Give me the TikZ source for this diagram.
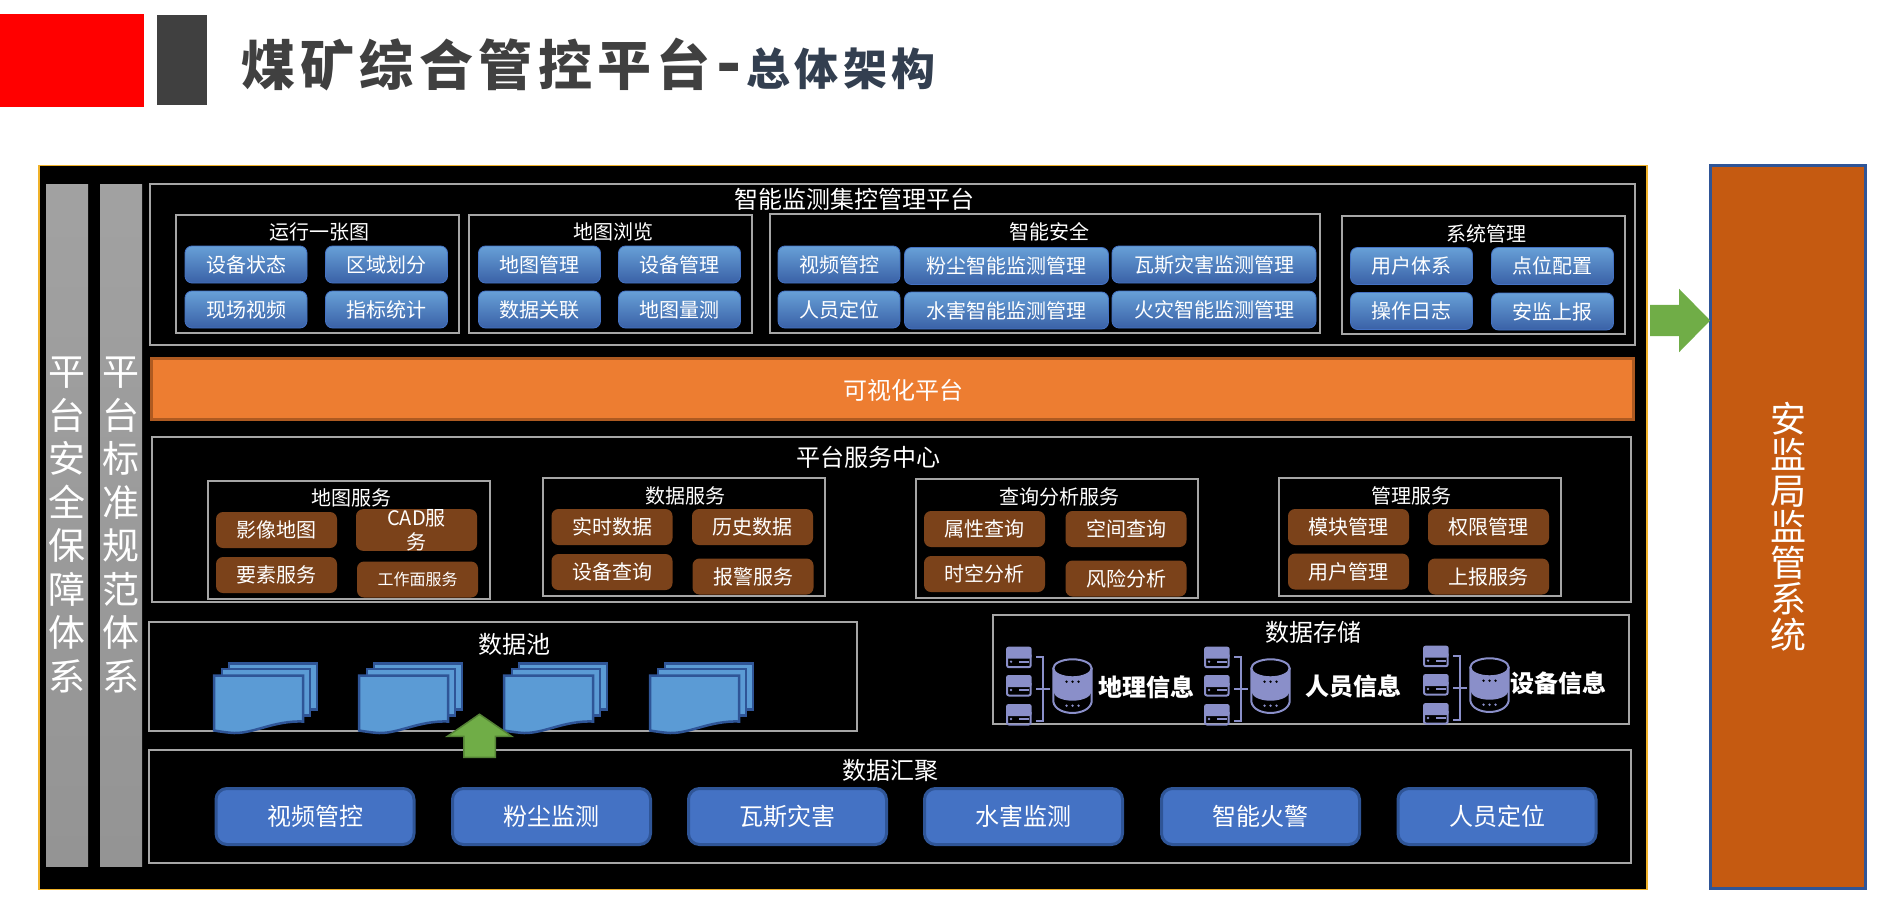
\documentclass[tikz,border=0pt]{standalone}
\usepackage{fontspec}
\setmainfont{Noto Sans CJK SC}
\newfontfamily\titlefont[LetterSpace=10]{Noto Sans CJK SC}
\usetikzlibrary{shapes.arrows}
\definecolor{panelline}{HTML}{F0B22A}
\definecolor{boxline}{HTML}{A6A6A6}
\definecolor{darkbrown}{HTML}{7B421A}
\definecolor{btnblue}{HTML}{4472C4}
\definecolor{btnline}{HTML}{2F5597}
\definecolor{docfill}{HTML}{5B9BD5}
\definecolor{iconblue}{HTML}{8A8FC9}
\definecolor{arrowgreen}{HTML}{70AD47}
\definecolor{arrowline}{HTML}{548235}
\definecolor{subhead}{HTML}{333F50}
\definecolor{visualfill}{HTML}{ED7D31}
\definecolor{visualline}{HTML}{AE5A21}
\definecolor{superfill}{HTML}{C55A11}
\tikzset{
  groupbox/.style={draw=boxline,line width=2pt,inner sep=0pt},
  smalltitle/.style={text=white,inner sep=0pt,font=\fontsize{20}{24}\selectfont},
  bigtitle/.style={text=white,inner sep=0pt,font=\fontsize{24}{28}\selectfont},
  bluebtn/.style={rounded corners=7pt,top color=btnblue!75!white!90!cyan,bottom color=btnblue!85!black,
    draw=btnblue,line width=.8pt,text=white,inner sep=0pt,minimum width=122pt,minimum height=37pt,
    font=\fontsize{20}{24}\selectfont},
  brownbtn/.style={rounded corners=7pt,fill=darkbrown,text=white,inner sep=0pt,minimum width=121pt,
    minimum height=36pt,font=\fontsize{20}{24}\selectfont},
  sourcebtn/.style={rounded corners=11pt,fill=btnblue,draw=btnline,line width=3pt,text=white,inner sep=0pt,
    minimum width=198pt,minimum height=56pt,font=\fontsize{24}{28}\selectfont},
  sidebar/.style={top color=boxline!105!white,bottom color=black!42,inner sep=0pt,text=white,align=center,
    minimum width=42pt,minimum height=682pt,font=\fontsize{37}{43.5}\selectfont},
  greenarrow/.style={single arrow,fill=arrowgreen,single arrow head indent=0pt},
  docstack/.pic={
    \draw[fill=docfill,draw=btnline,line width=2.5pt] (15,0) rectangle (103,46);
    \draw[fill=docfill,draw=btnline,line width=2.5pt] (8,5.5) rectangle (96,52);
    \draw[fill=docfill,draw=btnline,line width=2.5pt] (0,12) -- (89,12) -- (89,58)
      .. controls (60,57) and (40,70) .. (20,69.5) .. controls (12,69) and (6,68) .. (0,67) -- cycle;
  },
  dbicon/.pic={
    \foreach \sy in {0,28.3,57.3} {
      \draw[iconblue,line width=2pt,rounded corners=2pt] (1,\sy+8) -- (1,\sy+20.5) -- (24.7,\sy+20.5) -- (24.7,\sy+8);
      \fill[iconblue,rounded corners=2.5pt] (0,\sy) rectangle (25.7,\sy+12);
      \fill[iconblue] (5,\sy+15) circle (1.3);
      \fill[iconblue] (12.5,\sy+14) rectangle (22.5,\sy+15.8);
    }
    \draw[iconblue,line width=2pt] (30,10.6) -- (37.3,10.6) -- (37.3,74) -- (30,74);
    \draw[iconblue,line width=2pt] (30,42.6) -- (44,42.6);
    \fill[iconblue] (47.3,21.6) .. controls (50,33) and (83,33) .. (85.7,21.6) -- (85.7,45)
      .. controls (83,57) and (50,57) .. (47.3,45) -- cycle;
    \draw[iconblue,line width=2pt] (66.5,21.6) ellipse (19.2 and 9);
    \draw[iconblue,line width=2pt] (47.3,21.6) -- (47.3,55) .. controls (50,70) and (83,70) .. (85.7,55) -- (85.7,21.6);
    \foreach \dx in {60.5,66.5,72.5} {
      \fill[black] (\dx,35) circle (1.3);
      \fill[iconblue] (\dx,59) circle (1.3);
    }
  }
}
\begin{document}
\begin{tikzpicture}[x=1pt,y=-1pt]
\useasboundingbox (0,0) rectangle (1878,907);
% heading
\node[fill=red,minimum width=144pt,minimum height=93pt,inner sep=0pt] (redmark) at (72,60.5) {};
\node[fill=black!75,minimum width=50pt,minimum height=90pt,inner sep=0pt] (greymark) at (182,60) {};
\node[text=black!75,font=\titlefont\fontsize{54}{60}\selectfont\bfseries,inner sep=0pt] (headline) at (476,65) {煤矿综合管控平台};
\node[text=black!75,font=\fontsize{66}{70}\selectfont\bfseries,inner sep=0pt,anchor=base] (headdash) at (729,86.5) {-};
\node[text=subhead,font=\titlefont\fontsize{44}{50}\selectfont\bfseries,inner sep=0pt] (headsub) at (841,69) {总体架构};
% black panel and the two side bars
\node[fill=black,draw=panelline,line width=1.2pt,minimum width=1608pt,minimum height=723.5pt,inner sep=0pt] (panel) at (843,527.5) {};
\node[sidebar] (securebar) at (67,525) {平\\台\\安\\全\\保\\障\\体\\系};
\node[sidebar] (normbar) at (121,525) {平\\台\\标\\准\\规\\范\\体\\系};
% group frames
\foreach \nm/\x/\y/\w/\h in {
  topbox/892.5/264.5/1485/161, opsbox/317.5/274/283/118, viewbox/610.5/274/283/118,
  safebox/1045/273.5/550/119, sysbox/1483.5/275/283/118,
  svcbox/891.5/519.5/1479/165, mapsvcbox/349/540/282/118, datasvcbox/684/537/282/118,
  qrysvcbox/1057/538.5/282/119, mgrsvcbox/1420/537/282/118,
  poolbox/503/676.5/708/109, storebox/1311/669.5/636/109, gatherbox/890/806.5/1482/113}
  \node[groupbox,minimum width=\w pt,minimum height=\h pt] (\nm) at (\x,\y) {};
% titles
\foreach \nm/\x/\y/\txt in {
  toptitle/854/199.5/智能监测集控管理平台, svctitle/868/457/平台服务中心, pooltitle/514/644/数据池,
  storetitle/1313/632/数据存储, gathertitle/890/770/数据汇聚}
  \node[bigtitle] (\nm) at (\x,\y) {\txt};
\foreach \nm/\x/\y/\txt in {
  opstitle/319.5/232/运行一张图, viewtitle/613/232/地图浏览, safetitle/1049/232/智能安全, systitle/1486/234/系统管理,
  mapsvctitle/351/498/地图服务, datasvctitle/685.5/496/数据服务, qrysvctitle/1059/497/查询分析服务, mgrsvctitle/1411/496/管理服务}
  \node[smalltitle] (\nm) at (\x,\y) {\txt};
% blue function buttons
\foreach \nm/\x/\y/\txt in {
  devState/246/264.5/设备状态, areaDiv/386.5/264.5/区域划分, siteVideo/246/309.5/现场视频, kpiStat/386.5/309.5/指标统计,
  mapMgr/539.5/264.5/地图管理, devMgr/679.5/264.5/设备管理, dataLink/539.5/309.5/数据关联, mapGauge/679.5/309.5/地图量测,
  vidCtl/839/264.5/视频管控, staffPos/839/309.5/人员定位,
  userSys/1411.5/266/用户体系, pointCfg/1552.5/266/点位配置, opLog/1411.5/311/操作日志, superRep/1552.5/311.5/安监上报}
  \node[bluebtn] (\nm) at (\x,\y) {\txt};
\foreach \nm/\x/\y/\txt in {
  dustMon/1006.5/266/粉尘智能监测管理, waterMon/1006.5/310.5/水害智能监测管理,
  gasMon/1214/264.5/瓦斯灾害监测管理, fireMon/1214/309.5/火灾智能监测管理}
  \node[bluebtn,minimum width=204pt] (\nm) at (\x,\y) {\txt};
% visual platform
\node[fill=visualfill,draw=visualline,line width=3pt,minimum width=1482pt,minimum height=61pt,inner sep=0pt] (visual) at (892.5,389) {};
\node[text=white,inner sep=0pt,font=\fontsize{24}{28}\selectfont] (visualtext) at (903,390) {可视化平台};
% brown service buttons
\foreach \nm/\x/\y/\txt in {
  imgMap/276.5/530/影像地图, featSvc/276.5/575/要素服务,
  realData/612/527/实时数据, histData/752.5/527/历史数据, devQuery/612/572/设备查询, alarmSvc/753/576.5/报警服务,
  attrQuery/984.5/529/属性查询, spaceQuery/1126/529/空间查询, stAna/984.5/574/时空分析, riskAna/1126/578.5/风险分析,
  modMgr/1348.5/527/模块管理, permMgr/1488.5/527/权限管理, usrMgr/1348.5/571.5/用户管理, repSvc/1488.5/576.5/上报服务}
  \node[brownbtn] (\nm) at (\x,\y) {\txt};
\node[brownbtn,align=center] (cadSvc) at (416.5,530) {CAD服\\务};
\node[brownbtn,font=\fontsize{16}{20}\selectfont] (faceSvc) at (417.5,579.5) {工作面服务};
% data pool icons
\foreach \x [count=\i] in {214,359,504,650}
  \pic (pool\i) at (\x,663.5) {docstack};
% storage icons
\pic (geoDb) at (1006,646.7) {dbicon};
\pic (staffDb) at (1204,646.7) {dbicon};
\pic (devDb) at (1423,645.7) {dbicon};
\foreach \nm/\x/\y/\txt in {geoText/1146/687/地理信息, staffText/1353.5/686/人员信息, devText/1558/683/设备信息}
  \node[text=white,inner sep=0pt,font=\fontsize{24}{28}\selectfont\bfseries] (\nm) at (\x,\y) {\txt};
% data sources
\foreach \nm/\x/\txt in {srcVideo/315/视频管控, srcDust/551.5/粉尘监测, srcGas/787.5/瓦斯灾害,
  srcWater/1023.5/水害监测, srcFire/1260.5/智能火警, srcStaff/1497/人员定位}
  \node[sourcebtn] (\nm) at (\x,816.5) {\txt};
% supervision system
\node[fill=superfill,draw=btnline,line width=3pt,minimum width=155pt,minimum height=723pt,
  inner sep=0pt,text=white,align=center,font=\fontsize{36}{36}\selectfont] (supervise) at (1788,527) {安\\监\\局\\监\\管\\系\\统};
% block arrows
\node[greenarrow,inner xsep=0pt,inner ysep=15.5pt,minimum height=60pt,single arrow head extend=16pt,single arrow tip angle=91,anchor=tail] (toSupervise) at (1650,320.5) {};
\node[greenarrow,draw=arrowline,line width=1.5pt,inner xsep=15pt,inner ysep=0pt,minimum height=43pt,single arrow head extend=16.5pt,
  single arrow tip angle=111,shape border rotate=90,anchor=tail] (toPool) at (479.5,758) {};
\end{tikzpicture}
\end{document}
